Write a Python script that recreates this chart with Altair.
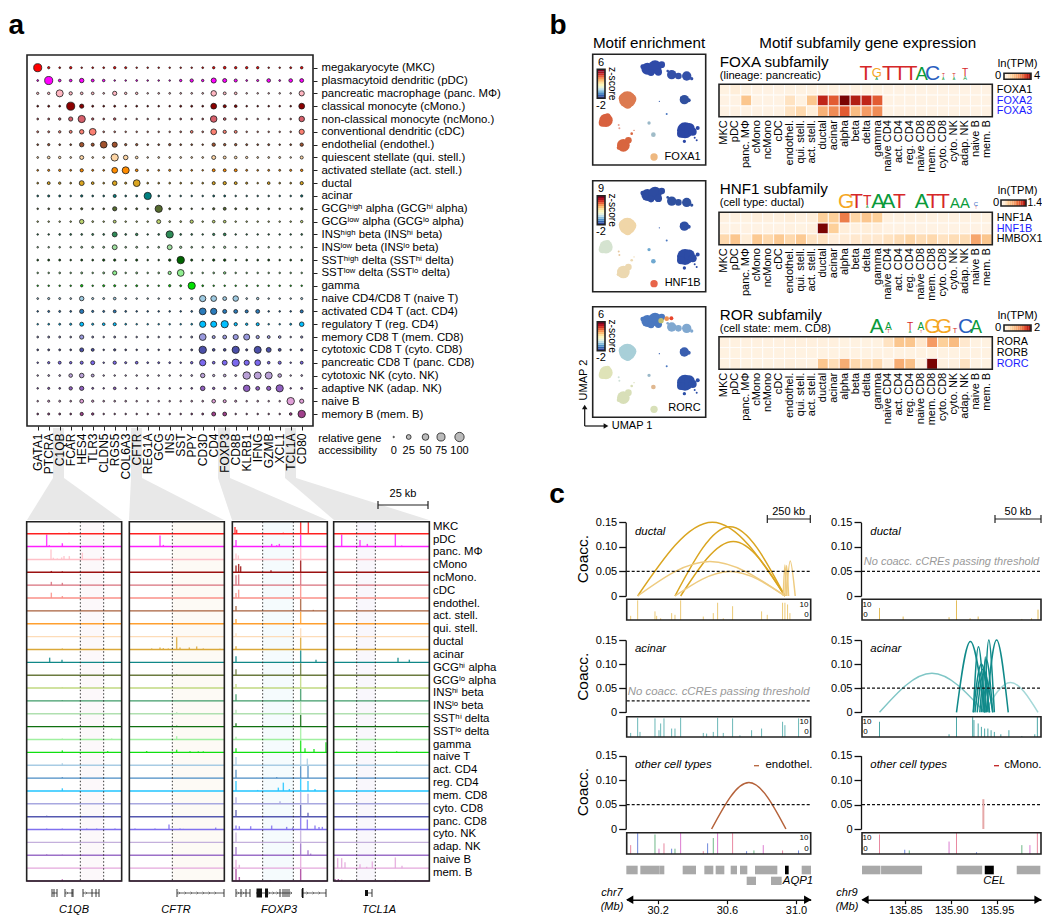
import altair as alt
import pandas as pd

W, H = 1034, 908
FONT = "Liberation Sans"

# ---------- panel a: dot plot ----------
genes = ["GATA1","PTCRA","C1QB","FCAR","HES4","TLR3","CLDN5","RGS5","COL6A3","CFTR","REG1A","GCG","INS","SST","PPY",
         "CD3D","CD4","FOXP3","CD8B","KLRB1","IFNG","GZMB","XCL1","TCL1A","CD80"]
dot_rows = ["megakaryocyte (MKC)","plasmacytoid dendritic (pDC)","pancreatic macrophage (panc. MΦ)","classical monocyte (cMono.)",
            "non-classical monocyte (ncMono.)","conventional dendritic (cDC)","endothelial (endothel.)","quiescent stellate (qui. stell.)",
            "activated stellate (act. stell.)","ductal","acinar","GCGʰⁱᵍʰ alpha (GCGʰⁱ alpha)","GCGˡᵒʷ alpha (GCGˡᵒ alpha)",
            "INSʰⁱᵍʰ beta (INSʰⁱ beta)","INSˡᵒʷ beta (INSˡᵒ beta)","SSTʰⁱᵍʰ delta (SSTʰⁱ delta)","SSTˡᵒʷ delta (SSTˡᵒ delta)","gamma",
            "naive CD4/CD8 T (naive T)","activated CD4 T (act. CD4)","regulatory T (reg. CD4)","memory CD8 T (mem. CD8)",
            "cytotoxic CD8 T (cyto. CD8)","pancreatic CD8 T (panc. CD8)","cytotoxic NK (cyto. NK)","adaptive NK (adap. NK)",
            "naive B","memory B (mem. B)"]
dot_colors = ["#ff0000","#ff00ff","#ffb6c1","#8b0000","#d65f6b","#fa8072","#a0522d","#fdd5a5","#ff8c00","#daa520","#008080",
              "#556b2f","#bcd36e","#2e8b57","#a0dfa0","#006400","#90ee90","#00e000","#9ecae1","#2b7bba","#00bfff","#9999dd",
              "#4b4fa8","#7b68ee","#b9a0d6","#9060c0","#e0a0d8","#a0408c"]
dot_vals = [
 [100,5,2,6,1,2,2,6,4,1,1,1,1,1,1,2,6,8,6,6,6,1,1,3,7],
 [2,100,8,8,28,10,7,1,1,2,1,1,1,6,14,6,38,22,12,2,4,18,2,18,20],
 [5,6,75,14,8,8,2,25,6,6,1,2,2,2,2,2,45,10,8,1,1,1,1,1,40],
 [2,3,2,100,25,3,2,3,1,2,1,1,1,3,3,2,50,12,8,1,1,1,1,1,50],
 [2,3,6,25,80,5,2,6,1,1,1,1,1,2,2,2,65,8,4,1,1,1,1,1,45],
 [3,3,6,10,28,70,2,2,1,1,1,1,1,2,8,2,50,14,10,1,1,1,1,1,40],
 [2,5,2,2,28,12,70,38,5,5,2,2,5,2,2,1,15,6,6,3,2,3,1,2,15],
 [2,8,6,2,22,2,2,80,30,8,1,2,2,2,2,2,22,10,8,5,2,2,3,1,12],
 [2,4,5,2,14,3,2,50,75,8,2,2,4,2,2,1,10,10,10,3,2,3,3,4,6],
 [2,10,6,2,35,8,2,30,4,70,2,2,2,2,2,2,12,14,10,4,1,8,2,2,14],
 [2,4,3,1,5,2,2,12,2,3,80,2,1,1,1,1,3,3,1,1,1,1,1,1,5],
 [1,2,2,1,4,2,2,25,3,3,1,80,3,3,1,1,5,10,3,3,2,2,1,1,5],
 [1,1,1,1,28,2,1,10,1,1,1,22,2,2,14,1,8,8,1,1,1,1,1,1,6],
 [1,1,2,2,2,3,2,35,2,6,1,2,80,2,2,1,5,8,1,1,1,1,1,1,2],
 [1,1,1,1,3,3,3,35,2,3,1,2,35,5,2,1,2,5,1,1,1,1,1,1,1],
 [2,3,3,1,3,2,5,5,2,4,1,1,6,85,4,1,5,6,1,2,2,3,1,2,2],
 [1,1,2,1,3,1,3,25,1,3,1,2,14,70,2,1,2,6,1,1,1,1,1,1,1],
 [1,1,1,1,6,1,4,4,1,3,1,1,5,3,80,2,1,1,1,1,1,1,1,1,1],
 [2,4,3,2,28,4,3,8,2,1,1,1,1,1,4,60,50,20,45,2,6,1,1,1,4],
 [1,3,3,2,25,4,3,10,2,1,1,1,1,1,2,70,60,22,20,12,20,1,1,1,12],
 [1,2,3,4,22,4,8,12,2,1,1,1,1,1,2,60,55,80,14,6,12,1,1,3,30],
 [2,3,3,2,25,3,1,3,1,1,1,1,1,1,3,70,12,20,40,55,14,10,8,1,5],
 [2,3,3,2,22,10,1,5,2,1,1,1,1,1,3,85,8,8,80,4,75,35,10,1,5],
 [1,5,10,6,12,22,1,14,4,8,2,3,2,1,6,60,8,35,80,40,50,8,12,1,10],
 [1,2,2,18,30,10,1,1,1,1,1,1,1,1,2,28,5,8,3,85,75,75,18,1,2],
 [1,4,2,15,25,3,1,8,1,1,1,1,1,1,2,30,6,5,2,65,20,25,80,1,4],
 [1,4,3,2,20,5,2,2,2,1,1,1,1,1,2,2,18,12,4,1,2,1,1,85,25],
 [2,4,3,2,14,6,1,1,1,1,1,1,1,1,2,3,22,20,1,1,1,1,1,8,85],
]
size_legend_vals = [0,25,50,75,100]
size_legend_x = [393.7,408.7,425.5,441,459.5]

# ---------- panel a: tracks (positions and heights read in a common x reading) ----------
track_rows = ["MKC","pDC","panc. MΦ","cMono","ncMono.","cDC","endothel.","act. stell.","qui. stell.","ductal","acinar",
              "GCGʰⁱ alpha","GCGˡᵒ alpha","INSʰⁱ beta","INSˡᵒ beta","SSTʰⁱ delta","SSTˡᵒ delta","gamma","naive T","act. CD4",
              "reg. CD4","mem. CD8","cyto. CD8","panc. CD8","cyto. NK","adap. NK","naive B","mem. B"]
track_colors = ["#ff2020","#ff20ff","#ffc0c8","#9b1010","#d8707c","#fa9088","#a8603c","#ffa030","#fddcb8","#daa838","#108888",
                "#6b7b3f","#c0d880","#3f9b68","#b0e0b0","#107010","#a0f0a0","#10e010","#a8cce4","#4a8cc4","#20c4ff","#a8a8e0",
                "#5558b0","#8070ee","#c4b0dc","#9c70c8","#e4a8dc","#a8409c"]
frames_z = [(20,305),(328,613),(637,922),(941,1228)]
shade_z = [(181,251,"#fcf8fa"),(457,613,"#fdfaf5"),(728,820,"#f5fbfd"),(1010,1066,"#f9f7fc")]
dotted_z = [181,251,457,728,820,1010,1066]
peaks = {
 "MKC":[(147,3),(645,20),(650,12),(790,3),(810,2),(842,36),(865,36)],
 "pDC":[(80,36),(88,4),(127,10),(420,33),(430,5),(648,20),(755,8),(770,4),(778,8),(842,36),(965,36),(1020,20),(1042,8),(1126,38),(1145,3)],
 "panc. MΦ":[(93,30),(100,5),(112,3),(125,6),(132,10),(148,10),(187,20),(243,8),(648,18),(655,12),(842,36)],
 "cMono":[(94,4),(127,3),(648,20),(656,25),(662,18),(753,6),(842,36)],
 "ncMono.":[(94,10),(127,7),(648,30),(656,32),(842,36)],
 "cDC":[(94,16),(127,6),(648,15),(656,25),(842,36)],
 "endothel.":[(648,15),(842,36),(880,3)],
 "act. stell.":[(648,14),(842,36)],
 "qui. stell.":[(648,10),(842,25)],
 "ductal":[(127,3),(395,3),(420,6),(430,4),(445,3),(470,38),(480,6),(508,6),(530,9),(550,3),(600,2),(648,10),(842,36)],
 "acinar":[(89,14),(126,8),(648,18),(842,36),(888,8),(1134,14),(1168,8)],
 "GCGʰⁱ alpha":[(470,2),(648,18),(842,36)],
 "GCGˡᵒ alpha":[(127,2),(648,12),(842,36),(920,8)],
 "INSʰⁱ beta":[(127,2),(648,20),(842,36)],
 "INSˡᵒ beta":[(470,5),(648,12),(842,36)],
 "SSTʰⁱ delta":[(470,3),(648,10),(842,36)],
 "SSTˡᵒ delta":[(127,3),(275,3),(470,10),(648,8),(842,36)],
 "gamma":[(127,6),(263,4),(380,4),(470,8),(510,3),(535,3),(550,3),(648,12),(842,36),(855,12),(882,10),(918,30),(1130,3)],
 "naive T":[(127,6),(648,25),(842,36),(862,20)],
 "act. CD4":[(127,3),(648,25),(770,3),(842,36),(864,36)],
 "reg. CD4":[(127,8),(648,30),(713,3),(775,10),(790,25),(808,6),(842,36),(864,30),(885,6)],
 "mem. CD8":[(648,20),(780,8),(842,36),(864,30)],
 "cyto. CD8":[(80,3),(127,2),(648,20),(842,36),(864,12)],
 "panc. CD8":[(80,3),(127,3),(200,3),(230,3),(285,3),(345,3),(405,3),(447,15),(480,3),(490,2),(587,6),(648,12),(658,10),(692,10),(755,12),(800,8),(818,6),(842,36),(862,30),(885,12),(897,8),(907,8)],
 "cyto. NK":[(648,30),(842,36)],
 "adap. NK":[(80,3),(127,2),(648,25),(842,36),(864,15),(872,5)],
 "naive B":[(648,25),(658,10),(842,36),(953,30),(965,30),(975,18),(1020,12),(1040,4),(1057,20),(1126,32),(1146,7)],
 "mem. B":[(127,5),(648,36),(658,12),(752,3),(842,36),(945,6),(955,6),(965,4),(1126,3)],
}

# ---------- panel b ----------
heat_cols = ["MKC","pDC","panc. MΦ","cMono","ncMono","cDC","endothel.","qui. stell.","act. stell.","ductal","acinar","alpha","beta",
             "delta","gamma","naive CD4","act. CD4","reg. CD4","naive CD8","mem. CD8","cyto. CD8","cyto. NK","adap. NK","naive B","mem. B"]
foxa = {"FOXA1":[.03,.08,.03,.02,.02,.02,.03,.03,.03,.03,.03,.03,.03,.03,.03,.02,.02,.02,.02,.02,.02,.02,.02,.02,.02],
        "FOXA2":[.02,.02,.3,.02,.02,.02,.15,.03,.3,.85,.7,1,.88,.85,.7,.02,.02,.02,.02,.02,.02,.02,.02,.02,.02],
        "FOXA3":[.02,.02,.02,.02,.02,.02,.15,.2,.08,.4,.55,.7,.35,.5,.55,.02,.02,.02,.02,.02,.02,.02,.02,.02,.02]}
hnf1 = {"HNF1A":[.04,.04,.03,.06,.05,.05,.08,.05,.08,.25,.25,.6,.22,.3,.25,.04,.04,.04,.04,.04,.04,.04,.04,.03,.03],
        "HNF1B":[.02,.02,.02,.02,.02,.02,.04,.03,.05,1,.25,.08,.05,.08,.07,.02,.02,.02,.02,.02,.02,.02,.02,.02,.02],
        "HMBOX1":[.2,.3,.08,.28,.2,.28,.2,.28,.15,.15,.07,.1,.12,.12,.12,.15,.18,.22,.18,.2,.15,.18,.18,.45,.3]}
ror = {"RORA":[.04,.04,.04,.04,.04,.04,.05,.05,.05,.05,.05,.03,.03,.03,.03,.15,.3,.3,.12,.5,.25,.35,.12,.03,.03],
       "RORB":[.03,.03,.03,.03,.03,.03,.03,.03,.03,.03,.03,.03,.03,.03,.03,.03,.03,.03,.03,.03,.03,.03,.03,.03,.03],
       "RORC":[.03,.07,.03,.03,.03,.04,.06,.04,.04,.3,.18,.42,.2,.17,.2,.05,.42,.33,.04,1,.05,.05,.15,.03,.03]}
heat_stops = [0,.1,.25,.5,.8,1]
heat_range = ["#fff4e6","#ffecd6","#fdd09a","#f59b64","#d7301f","#7a0403"]
bar_stops = [0,.07,.14,.21,.28,.35,.42,.5,.57,.64,.71,.78,.85,.92,1]
z_colors = ["#2c3a8c","#2f5fae","#4b8fc8","#83bcdc","#bfe0ea","#e8f3d8","#fbf7bc","#fee39a","#fdbf70","#f89550","#ea6038","#d23024","#ad1020","#800020","#5a0010"]

umap_blobs = {
 "T1":[(164,43,18),(187,38,20),(207,31,10),(197,53,11),(150,37,7),(175,55,10)],
 "T2":[(237,61,14),(257,65,10),(282,65,14),(297,73,5),(225,50,4)],
 "Mid":[(275,136,14),(288,138,6),(265,130,3)],
 "Big":[(277,228,24),(290,222,16),(265,238,12),(300,232,12),(315,221,6),(306,250,3),(312,258,3),(275,261,5)],
 "D":[(104,136,25),(92,132,14),(116,134,15),(105,150,13)],
 "E":[(40,198,20),(30,205,12),(45,185,8)],
 "F":[(78,212,3),(80,222,3)],
 "G":[(92,273,19),(107,258,10),(117,238,4),(124,228,2),(78,280,6)],
 "H":[(184,308,11)],
 "I1":[(169,206,5)],
 "I2":[(182,241,7)],
 "J1":[(200,141,2)],
 "J2":[(222,179,3)],
}
umap_colors = {
 "FOXA1":{"T1":"#2f4aa8","T2":"#3350a8","Mid":"#30509f","Big":"#2b46a5","D":"#dc7a50","E":"#d8613f","F":"#e8a090","G":"#d8653f","H":"#eeb880","I1":"#9ab8c8","I2":"#a0bcc8","J1":"#3a60b0","J2":"#4a78c0"},
 "HNF1B":{"T1":"#2d4ba0","T2":"#2f509f","Mid":"#2e4fa4","Big":"#2c4ba5","D":"#f0d6a8","E":"#d5e3d0","F":"#e8c8a0","G":"#ecd8b0","H":"#e8654a","I1":"#6fa8d0","I2":"#6fa8d0","J1":"#3a60b0","J2":"#4a78c0"},
 "RORC":{"T1":"#4a78c0","T2":"#80a8d0","Mid":"#3a5fb0","Big":"#2d50a8","D":"#a8cfd8","E":"#dfe3b8","F":"#cfe0d8","G":"#d8dfb8","H":"#d8e0b8","I1":"#9ab8c8","I2":"#e0b890","J1":"#3a60b0","J2":"#4a78c0"},
}
rorc_tip = [(205,42,8),(222,36,7),(236,35,6)]
logo_colors = {"A":"#0a9a3a","C":"#2a5fbf","G":"#f5a623","T":"#d62728"}
logos = {
 "FOXA":(80,[("T",858,62),("A",890,9),("G",890,28),("T",925,65),("T",960,55),("T",993,45),("A",1025,40),("C",1058,52),("A",1090,8),("T",1090,10),("A",1122,8),("T",1122,12),("A",1155,12),("T",1155,22)]),
 "HNF1":(208,[("G",798,45),("T",830,45),("A",862,8),("T",862,30),("A",895,65),("A",925,55),("T",958,50),("A",1025,60),("T",1058,50),("T",1090,65),("A",1125,32),("A",1155,32),("T",1188,6),("C",1188,13)]),
 "ROR":(333,[("A",890,50),("T",925,10),("A",925,22),("A",990,8),("T",990,22),("T",1023,8),("A",1023,22),("G",1057,65),("G",1092,65),("T",1125,16),("C",1157,50),("A",1188,38)]),
}

# ---------- panel c ----------
arcs_duct = [(233,457,675,.15,"#daa520"),(345,510,675,.141,"#daa520"),(362,520,675,.111,"#daa520"),
             (233,450,675,.07,"#eecb80"),(345,510,675,.05,"#eecb80"),(670,675,680,.063,"#eecb80"),(675,680,686,.062,"#eecb80"),(680,691,706,.071,"#eecb80")]
arcs_acin = [(960,1122,1285,.081,"#7fc6c6"),(1285,1365,1450,.062,"#a5d8d8"),(1198,1241,1285,.147,"#108a8a"),(1250,1266,1285,.136,"#108a8a"),
             (1285,1298,1315,.15,"#108a8a"),(1290,1322,1358,.15,"#108a8a"),(1250,1275,1300,.1,"#108a8a"),(1262,1281,1300,.08,"#108a8a"),
             (1280,1287,1295,.115,"#108a8a"),(1270,1290,1310,.11,"#108a8a"),(1275,1282,1290,.05,"#108a8a"),(1255,1280,1310,.09,"#108a8a")]
arcs_other = [(455,567,678,.095,"#b5623a")]
tr_duct_l = [(212,12),(233,57),(285,25),(290,12),(302,5),(335,20),(345,15),(362,57),(430,10),(460,20),(473,50),(490,5),(518,40),(605,25),(622,15),(668,50),(675,50),(683,45),(690,20)]
tr_acin_l = [(212,12),(233,57),(240,15),(285,55),(297,20),(302,40),(312,55),(335,25),(345,25),(362,57),(430,12),(440,10),(460,15),(473,57),(490,12),(518,55),(540,5),(575,20),(605,25),(668,45),(675,35),(716,55)]
tr_oth_l = [(212,25),(233,60),(285,55),(297,15),(312,30),(335,15),(345,15),(362,60),(430,8),(443,30),(460,45),(473,60),(518,60),(560,8),(582,10),(610,25),(668,10),(716,10)]
tr_duct_r = [(960,35),(1033,10),(1175,8),(1198,57),(1240,5),(1265,10),(1400,3),(1430,5),(1450,30)]
tr_acin_r = [(960,45),(1175,8),(1198,60),(1248,60),(1252,50),(1265,40),(1275,30),(1285,25),(1295,25),(1305,20),(1315,15),(1335,8),(1360,20),(1400,3),(1440,8),(1448,60)]
tr_oth_r = [(960,55),(1038,12),(1052,10),(1175,35),(1198,60),(1260,5),(1400,25),(1425,25),(1448,60)]
oth_colors = ["#e06080","#4060d0","#40a060","#d050c0"]
blocks_l1 = [(199,233),(241,298),(298,313),(368,408),(433,460),(467,493),(512,531),(540,562),(585,652),(725,753)]
blocks_l2 = [(560,588),(633,665)]
blocks_r1 = [(906,963),(965,1092),(1199,1278),(1385,1458)]
black_l = [(675,686)]
black_r = [(1286,1314)]

# ---------- helpers ----------
layers = []
def S(d0, d1, p0, p1):
    return alt.Scale(domain=[d0, d1], range=[p0-8, p1-8], nice=False, zero=False)
PXX = S(8, 1042, 8, 1042)
PXY = S(8, 916, 8, 916)
def Xp(f="x"): return alt.X(f+":Q", scale=PXX, axis=None)
def Yp(f="y"): return alt.Y(f+":Q", scale=PXY, axis=None)
def rect(rows, **kw):
    df = pd.DataFrame(rows, columns=["x","x2","y","y2"])
    layers.append(alt.Chart(df).mark_rect(**kw).encode(Xp(), alt.X2("x2:Q"), Yp(), alt.Y2("y2:Q")))
def seg(rows, **kw):
    df = pd.DataFrame(rows, columns=["x","y","x2","y2"])
    layers.append(alt.Chart(df).mark_rule(**kw).encode(Xp(), alt.X2("x2:Q"), Yp(), alt.Y2("y2:Q")))
def txt(rows, size=11.4, align="left", color="black", angle=0, style="normal", weight="normal", baseline="middle", font=FONT):
    df = pd.DataFrame(rows, columns=["x","y","t"])
    layers.append(alt.Chart(df).mark_text(fontSize=size, align=align, color=color, angle=angle, fontStyle=style,
                  fontWeight=weight, baseline=baseline, font=font).encode(Xp(), Yp(), text="t:N"))
def frame(x0,x1,y0,y1):
    df = pd.DataFrame([(x0,x1,y0,y1)], columns=["x","x2","y","y2"])
    layers.append(alt.Chart(df).mark_rect(fillOpacity=0, stroke="#222222", strokeWidth=1.6).encode(Xp(), alt.X2("x2:Q"), Yp(), alt.Y2("y2:Q")))

# ---------- grey connectors ----------
conn = [(53,64,27,122),(131,142,129,224),(218,230,232,327),(285,296,334,429)]
for a,b,c,d in conn:
    rect([(a,b,428,478)], color="#e8e8e8")
    df = pd.DataFrame([(478,a,b),(520,c,d)], columns=["y","x","x2"])
    layers.append(alt.Chart(df).mark_area(orient="horizontal", color="#e8e8e8").encode(Yp(), Xp(), alt.X2("x2:Q")))

# dot plot
dots = pd.DataFrame([{"g":g,"r":r,"v":dot_vals[i][j],"c":dot_colors[i]} for i,r in enumerate(dot_rows) for j,g in enumerate(genes)])
layers.append(alt.Chart(dots).mark_circle(opacity=1, stroke="#1a1a1a", strokeWidth=0.8).encode(
    alt.X("g:N", sort=None, scale=alt.Scale(domain=genes, range=[37.7-8, 301.7-8], padding=0),
          axis=alt.Axis(orient="bottom", offset=426-8-H, title=None, labelAngle=-90, labelAlign="right", labelBaseline="middle", zindex=1,
                        labelFont=FONT, labelFontSize=12, labelColor="black", tickSize=4, tickColor="#222", domain=False, grid=False, labelPadding=3, labelOverlap=False)),
    alt.Y("r:N", sort=None, scale=alt.Scale(domain=dot_rows, range=[67.7-8, 414-8], padding=0),
          axis=alt.Axis(orient="right", offset=313-8-W, title=None, labelFont=FONT, labelFontSize=11.4, labelColor="black", tickSize=4, tickColor="#222", zindex=1,
                        domain=False, grid=False, labelPadding=4, labelLimit=300, labelOverlap=False)),
    alt.Size("v:Q", scale=alt.Scale(domain=[0,133], range=[2,86]), legend=None),
    alt.Color("c:N", scale=None)))
frame(27,313,55,426)
txt([(318.3,439.3,"relative gene"),(318.3,451,"accessibility")], size=11)
leg = pd.DataFrame({"v":size_legend_vals, "x":size_legend_x, "y":[437]*5})
layers.append(alt.Chart(leg).mark_circle(opacity=1, color="#bbbbbb", stroke="#1a1a1a", strokeWidth=0.8).encode(Xp(), Yp(),
    alt.Size("v:Q", scale=alt.Scale(domain=[0,100], range=[2,86]), legend=None)))
txt([(x,451,str(v)) for x,v in zip(size_legend_x,size_legend_vals)], size=11, align="center")

# tracks
ZX = S(0,1440,20,500)
TY = S(0,27*38.6,533.7,881)
def Xz(f="z"): return alt.X(f+":Q", scale=ZX, axis=None)
def Yt(f="y"): return alt.Y(f+":Q", scale=TY, axis=None)
sh = pd.DataFrame(shade_z, columns=["z","z2","c"]).assign(y=-36.0, y2=27*38.6)
layers.append(alt.Chart(sh).mark_rect().encode(Xz(), alt.X2("z2:Q"), Yt(), alt.Y2("y2:Q"), alt.Color("c:N", scale=None)))
pk = pd.DataFrame([{"z":z,"y":i*38.6-h,"y2":i*38.6,"c":track_colors[i]} for i,r in enumerate(track_rows) for z,h in peaks[r]])
layers.append(alt.Chart(pk).mark_rule(strokeWidth=1.4, opacity=.85).encode(Xz(), Yt(), alt.Y2("y2:Q"), alt.Color("c:N", scale=None)))
base = pd.DataFrame([{"z":a,"z2":b,"y":i*38.6,"c":track_colors[i]} for i in range(len(track_rows)) for a,b in frames_z])
layers.append(alt.Chart(base).mark_rule(strokeWidth=1.4).encode(Xz(), alt.X2("z2:Q"), Yt(), alt.Color("c:N", scale=None)))
dl = pd.DataFrame({"z":dotted_z, "y":[-36.0]*len(dotted_z), "y2":[27*38.6]*len(dotted_z)})
layers.append(alt.Chart(dl).mark_rule(strokeDash=[1.5,2], strokeWidth=.9, color="#222").encode(Xz(), Yt(), alt.Y2("y2:Q")))
fr = pd.DataFrame(frames_z, columns=["z","z2"]).assign(y=-36.0, y2=27*38.6)
layers.append(alt.Chart(fr).mark_rect(fillOpacity=0, stroke="#222", strokeWidth=1.6).encode(Xz(), alt.X2("z2:Q"), Yt(), alt.Y2("y2:Q")))
txt([(433,526.7+12.82*i,t) for i,t in enumerate(track_rows)], size=11.4)

# gene models
seg([(52,893,57,893),(65,893,73,893),(83,893,99,893),(177,893,224,893),(236,893,250,893),(256,893,292,893),(302,893,326,893),(365,893,372,893)], stroke="#333", strokeWidth=.8)
ex = [52,54,57,65,72,73,83,92,96,99,177,224,236,241,246,250,280,283,285,287,289,302,326,372]
seg([(x,889,x,897) for x in ex], stroke="#222", strokeWidth=.9)
rect([(256.5,262,888.5,897.5),(265,268,888.5,897.5),(302,303.5,888,898),(365,368,890,896)], color="#111")
chev = [68,87,180,186,192,198,204,210,216,239,244,270,274,278,292,308,314,320]
layers.append(alt.Chart(pd.DataFrame({"x":chev,"y":[893]*len(chev)})).mark_point(shape="M-1,-1L0,0L-1,1", size=8, stroke="#333", strokeWidth=.7, fill=None).encode(Xp(), Yp()))
txt([(74,910,"C1QB"),(176,910,"CFTR"),(279,910,"FOXP3"),(379,910,"TCL1A")], size=11, align="center", style="italic")
seg([(378,505,428,505),(378,501,378,509),(428,501,428,509)], stroke="#222", strokeWidth=1.2)
txt([(403,494,"25 kb")], size=11, align="center")

# UMAP panels
def umap(name, y0, y1, lo, hi, label, laby):
    x0, x1 = 592.7, 705.7
    rows = []
    for k,v in umap_blobs.items():
        for (a,b,r) in v:
            rows.append({"x":a,"y":b,"s":(2*r/3)**2,"c":umap_colors[name][k]})
    if name=="RORC":
        rows += [{"x":a,"y":b,"s":(2*r/3)**2,"c":c} for (a,b,r),c in zip(rorc_tip,["#c0c070","#f09050","#e8452c"])]
    d = pd.DataFrame(rows)
    layers.append(alt.Chart(d).mark_circle(opacity=1).encode(
        alt.X("x:Q", scale=S(0,339,x0,x1), axis=None), alt.Y("y:Q", scale=S(0,332,y0,y1), axis=None),
        alt.Size("s:Q", scale=None), alt.Color("c:N", scale=None)))
    cb = pd.DataFrame({"v":bar_stops[:-1], "v2":bar_stops[1:], "c":z_colors[:-1]})
    cy1 = y0+44; cy0 = y0+15
    layers.append(alt.Chart(cb).mark_rect().encode(alt.X(value=597.3-8), alt.X2(value=605-8),
        alt.Y("v:Q", scale=S(0,1,cy1,cy0), axis=None), alt.Y2("v2:Q"), alt.Color("c:N", scale=None)))
    frame(597.3,605,cy0,cy1)
    txt([(601,y0+8.4,hi),(601,y0+51.7,lo)], size=11, align="center")
    txt([(611.7,(cy0+cy1)/2,"z-score")], size=10.2, align="center", angle=90)
    txt([(700.7,laby,label)], size=11, align="right")
    frame(x0,x1,y0,y1)
umap("FOXA1",54.3,165,"-2","6","FOXA1",156.7)
umap("HNF1B",180.7,291.7,"-2","9","HNF1B",282.7)
umap("RORC",306.7,417.3,"-2","6","RORC",408.3)
seg([(584.7,426,606,426),(584.7,426,584.7,408)], stroke="#111", strokeWidth=1.2)
layers.append(alt.Chart(pd.DataFrame({"x":[606],"y":[426]})).mark_point(shape="triangle-right", size=30, filled=True, color="#111", opacity=1).encode(Xp(),Yp()))
layers.append(alt.Chart(pd.DataFrame({"x":[584.7],"y":[407]})).mark_point(shape="triangle-up", size=30, filled=True, color="#111", opacity=1).encode(Xp(),Yp()))
txt([(611.7,425.7,"UMAP 1")], size=11)
txt([(584,380,"UMAP 2")], size=11, align="center", angle=270)

# heatmaps
def heat(vals, y0, y1, name, sub, tity, suby, logo, cby, hi, bx0=1004, bx1=1031, lab0=998, labhi=1034, hisize=11.2):
    rows = list(vals)
    d = pd.DataFrame([{"r":r,"k":c,"v":vals[r][j]} for r in rows for j,c in enumerate(heat_cols)])
    layers.append(alt.Chart(d).mark_rect(stroke="white", strokeWidth=.8).encode(
        alt.X("k:N", sort=None, scale=alt.Scale(domain=heat_cols, range=[719-8, 992.3-8], padding=0),
              axis=alt.Axis(orient="bottom", offset=y1-8-H, title=None, labelAngle=-90, labelAlign="right", labelBaseline="middle", labelFont=FONT,
                            labelFontSize=11, labelColor="black", ticks=False, domain=False, grid=False, labelPadding=3, labelOverlap=False)),
        alt.Y("r:N", sort=None, scale=alt.Scale(domain=rows, range=[y0-8, y1-8], padding=0),
              axis=alt.Axis(orient="right", offset=992.3-8-W, title=None, ticks=False, domain=False, grid=False, labelFont=FONT, labelFontSize=10.8,
                            labelPadding=4, labelOverlap=False,
                            labelColor=alt.expr("indexof(['FOXA2','FOXA3','HNF1B','RORC'],datum.label)>=0?'#1a1aff':'black'"))),
        alt.Color("v:Q", scale=alt.Scale(domain=heat_stops, range=heat_range), legend=None)))
    frame(719,992.3,y0,y1)
    txt([(719.7,tity,name)], size=15.2)
    txt([(719.7,suby,sub)], size=11.2)
    by, ll = logos[logo]
    cap = 21
    rec=[]; seen={}
    for t,z,h in ll:
        s=min(h/3/.72,cap)
        o=seen.get(z,0)
        rec.append({"t":t,"x":580+z/3,"y":by-o,"s":s,"c":logo_colors[t]})
        seen[z]=o+s*.72
    layers.append(alt.Chart(pd.DataFrame(rec)).mark_text(baseline="alphabetic", align="center", font=FONT).encode(Xp(), Yp(), text="t:N",
        size=alt.Size("s:Q", scale=None), color=alt.Color("c:N", scale=None)))
    txt([(1017.7,cby-12,"ln(TPM)")], size=11.2, align="center")
    gb = pd.DataFrame({"v":bar_stops[:-1],"v2":bar_stops[1:]})
    layers.append(alt.Chart(gb).mark_rect().encode(alt.X("v:Q", scale=S(0,1,bx0,bx1), axis=None), alt.X2("v2:Q"),
        alt.Y(value=cby-3-8), alt.Y2(value=cby+3-8),
        alt.Color("v:Q", scale=alt.Scale(domain=heat_stops, range=heat_range), legend=None)))
    frame(bx0,bx1,cby-3,cby+3)
    txt([(lab0,cby,"0")], size=11.2, align="center")
    txt([(labhi,cby,hi)], size=hisize, align="left")
heat(foxa,84.3,116.7,"FOXA subfamily","(lineage: pancreatic)",62,75.7,"FOXA",76.3,"4")
heat(hnf1,212.3,244.7,"HNF1 subfamily","(cell type: ductal)",189,203,"HNF1",203,"1.4",bx0=1001,bx1=1026,lab0=996,labhi=1027.5,hisize=10.4)
heat(ror,336.7,369.3,"ROR subfamily","(cell state: mem. CD8)",315,328.5,"ROR",328,"2")
txt([(649,42.7,"Motif enrichment"),(867.7,42.7,"Motif subfamily gene expression")], size=15.2, align="center")

# panel c
XL = (30.2-31/173, 31.085, 626.7, 810.7)
XR = (135.8026, 135.998, 862, 1041)
def zl(z): return 30.2+(560+z/3-657.7)/173
def zr(z): return 135.85+(560+z/3-906.7)/944
def rx(px): return 862+(px-862)*179/184.7
def coacc(xs, conv, y15, y0, thr, arcs, ax_x):
    sx = S(xs[0],xs[1],xs[2],xs[3]); sy = S(0,.15,y0,y15)
    td = pd.DataFrame({"x":[xs[0]],"x2":[xs[1]],"t":[thr]})
    arc_rows=[]
    for i,(a,m,b,h,c) in enumerate(arcs):
        arc_rows += [{"id":i,"x":conv(a),"y":0,"c":c},{"id":i,"x":conv(m),"y":h,"c":c},{"id":i,"x":conv(b),"y":0,"c":c}]
    if arc_rows:
        layers.append(alt.Chart(pd.DataFrame(arc_rows)).mark_line(interpolate="natural", strokeWidth=1.5).encode(
            alt.X("x:Q", scale=sx, axis=None), alt.Y("y:Q", scale=sy, axis=None), alt.Detail("id:N"), alt.Color("c:N", scale=None)))
    layers.append(alt.Chart(td).mark_rule(strokeDash=[3,2], strokeWidth=1.2, color="#111").encode(
        alt.X("x:Q", scale=sx, axis=None), alt.X2("x2:Q"),
        alt.Y("t:Q", scale=sy, axis=alt.Axis(orient="left", offset=-(ax_x-8), title=None, values=[0,.05,.1,.15], tickSize=7, tickColor="#111", domainColor="#111", domainWidth=1.3, tickWidth=1.3,
              labelFont=FONT, labelFontSize=11, labelColor="black", grid=False, labelPadding=2, labelExpr="datum.value==0?'0':format(datum.value,'.2f')"))))
def track(xs, conv, y0, y1, tr, color, ten, zero, colors=None):
    rows=[{"x":conv(z),"y":h,"c":(colors[i%len(colors)] if colors else color)} for i,(z,h) in enumerate(tr)]
    layers.append(alt.Chart(pd.DataFrame(rows)).transform_calculate(b="0").mark_rule(strokeWidth=1, opacity=.75).encode(
        alt.X("x:Q", scale=S(xs[0],xs[1],xs[2],xs[3]), axis=None), alt.Y("y:Q", scale=S(0,60,y1,y0), axis=None), alt.Y2("b:Q"), alt.Color("c:N", scale=None)))
    frame(xs[2],xs[3],y0,y1)
    txt([ten,zero], size=8, align="center")

coacc(XL,zl,522.3,596,.05,arcs_duct,625.7)
coacc(XL,zl,640,712.3,.0235,[],625.7)
coacc(XL,zl,755.7,829,.05,arcs_other,625.7)
coacc(XR,zr,522.3,596,.05,[],861)
coacc(XR,zr,640,712.3,.05,arcs_acin,861)
coacc(XR,zr,755.7,829,.05,[],861)
track(XL,zl,599.3,620,tr_duct_l,"#e6b84a",(804,605,"10"),(806.5,615,"0"))
track(XL,zl,716.7,737,tr_acin_l,"#3aa0a0",(804,722,"10"),(806.5,732,"0"))
track(XL,zl,832.7,854,tr_oth_l,None,(804,838,"10"),(806.5,849,"0"),oth_colors)
track(XR,zr,599.3,620,tr_duct_r,"#daa520",(867,605,"10"),(865.5,615,"0"))
track(XR,zr,716.7,737,tr_acin_r,"#108a8a",(867,722,"10"),(865.5,732,"0"))
track(XR,zr,832.7,854,tr_oth_r,None,(867,838,"10"),(865.5,849,"0"),oth_colors)
txt([(583,559,"Coacc."),(583,676.7,"Coacc."),(583,792,"Coacc.")], size=15.5, align="center", angle=270)
txt([(635,531.7,"ductal"),(635,648.7,"acinar"),(635,765,"other cell types"),(870.3,531.7,"ductal"),(870.3,648.7,"acinar"),(870.3,765,"other cell types")], size=11.4, style="italic")
txt([(951.5,562,"No coacc. cCREs passing threshold")], size=11, align="center", style="italic", color="#999999")
txt([(718.7,691.7,"No coacc. cCREs passing threshold")], size=11.4, align="center", style="italic", color="#999999")
seg([(767.3,519,810.3,519),(767.3,515,767.3,523),(810.3,515,810.3,523),(995,519,1041,519),(995,515,995,523),(1041,515,1041,523)], stroke="#222", strokeWidth=1.2)
txt([(788.7,511.7,"250 kb"),(1018,511.7,"50 kb")], size=11, align="center")
seg([(754,765.7,759,765.7)], stroke="#b5623a", strokeWidth=1.3)
seg([(994,765.7,999,765.7)], stroke="#c02020", strokeWidth=1.3)
txt([(765.5,765,"endothel.")], size=11.4)
txt([(1041.5,765,"cMono.")], size=11.4, align="right")
layers.append(alt.Chart(pd.DataFrame({"x":[zr(1281)],"y":[.061],"b":[0]})).mark_rule(strokeWidth=2, color="#e6a8a8").encode(
    alt.X("x:Q", scale=S(XR[0],XR[1],XR[2],XR[3]), axis=None), alt.Y("y:Q", scale=S(0,.15,829,755.7), axis=None), alt.Y2("b:Q")))
def blocks(lst, y0, y1, color, conv=lambda p: p):
    rect([(conv(560+a/3),conv(560+b/3),y0,y1) for a,b in lst], color=color)
blocks(blocks_l1,865.7,874.3,"#a9a9a9"); blocks(blocks_l2,876.7,885,"#a9a9a9"); blocks(blocks_r1,865.7,874.3,"#a9a9a9",rx)
blocks(black_l,865.7,874.3,"#000"); blocks(black_r,865.7,874.3,"#000",rx)
txt([(798,881,"AQP1"),(rx(998.5),881,"CEL")], size=11.4, align="center", style="italic")
def gaxis(xs, vals, fmt):
    d = pd.DataFrame({"x":[xs[0],xs[1]],"y":[899.7,899.7]})
    layers.append(alt.Chart(d).mark_point(opacity=0).encode(
        alt.X("x:Q", scale=S(xs[0],xs[1],xs[2],xs[3]), axis=alt.Axis(orient="bottom", offset=899.7-8-H, title=None, values=vals, format=fmt, tickSize=4, tickWidth=1.2, tickColor="#111", domainColor="#111", domainWidth=1.5,
              labelFont=FONT, labelFontSize=11, labelColor="black", grid=False, labelPadding=1)),
        Yp()))
    layers.append(alt.Chart(pd.DataFrame({"x":[xs[2]+3],"y":[899.7]})).mark_point(shape="triangle-left", size=70, filled=True, color="#000", opacity=1).encode(Xp(),Yp()))
    layers.append(alt.Chart(pd.DataFrame({"x":[xs[3]-3],"y":[899.7]})).mark_point(shape="triangle-right", size=70, filled=True, color="#000", opacity=1).encode(Xp(),Yp()))
gaxis(XL,[30.2,30.6,31.0],".1f"); gaxis(XR,[135.85,135.90,135.95],".2f")
txt([(612,892.7,"chr7"),(612,906.7,"(Mb)"),(847,892.7,"chr9"),(847,906.7,"(Mb)")], size=11, align="center", style="italic")

# panel letters
txt([(8.5,34,"a")], size=28, align="left", weight="bold", baseline="alphabetic")
txt([(558,34,"b"),(557,503,"c")], size=28, align="center", weight="bold", baseline="alphabetic")

chart = alt.layer(*layers).resolve_scale(x="independent", y="independent", color="independent", size="independent").resolve_axis(x="independent", y="independent").properties(
    width=W, height=H, padding=0, autosize=alt.AutoSizeParams(type="none")
).configure_view(stroke=None).configure_axis(grid=False)
chart.save("out.html", embed_options={"renderer":"svg","actions":False})
